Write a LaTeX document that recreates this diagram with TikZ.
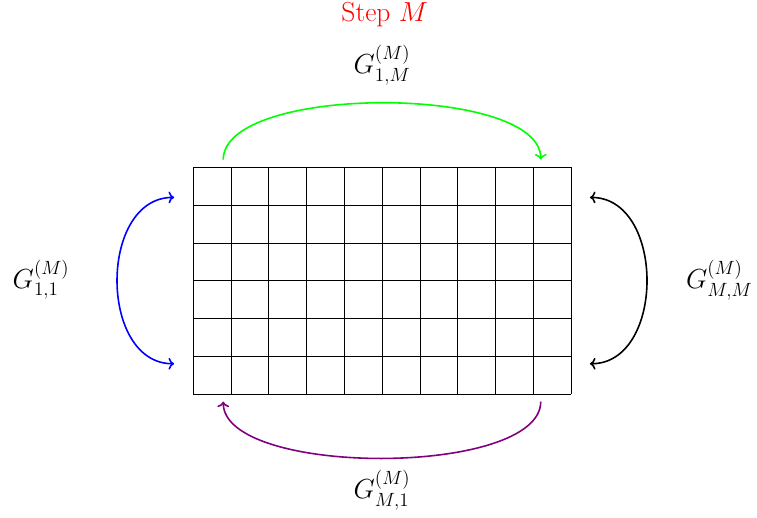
\documentclass[tikz,border=0pt]{standalone}
\usepackage{amsmath,amssymb}
\usepackage{tikz}
\usetikzlibrary{positioning, arrows.meta, calc}

\begin{document}
\begin{tikzpicture}[
  lbl/.style={font=\huge},
  swap/.style={->, very thick},
]
  \useasboundingbox (-5.106,-3.28) rectangle (14.92,10.423);

  % grid
  \draw (0,0) grid (10,6);

  % end points of the arrows
  \coordinate (gs) at (0.8,6.2);  \coordinate (ge) at (9.2,6.2);
  \coordinate (ps) at (9.2,-0.2); \coordinate (pe) at (0.8,-0.2);
  \coordinate (bs) at (-0.5,0.8); \coordinate (be) at (-0.5,5.2);
  \coordinate (ks) at (10.5,0.8); \coordinate (ke) at (10.5,5.2);

  \node[lbl, text=red] (step) at (5.07,10.05) {Step $M$};
  \node[lbl] (g1m) at (5,8.7) {$G_{1,M}^{(M)}$};
  \node[lbl] (gm1) at (5,-2.54) {$G_{M,1}^{(M)}$};
  \node[lbl] (g11) at (-4.02,3.02) {$G_{1,1}^{(M)}$};
  \node[lbl] (gmm) at (13.92,3.02) {$G_{M,M}^{(M)}$};

  \draw[swap, green] (gs) .. controls +(0,2) and +(0,2) .. (ge);
  \draw[swap, violet] (ps) .. controls +(0,-2) and +(0,-2) .. (pe);
  \draw[swap, blue, <->] (bs) .. controls +(-2,0) and +(-2,0) .. (be);
  \draw[swap, black, <->] (ks) .. controls +(2,0) and +(2,0) .. (ke);
\end{tikzpicture}
\end{document}
